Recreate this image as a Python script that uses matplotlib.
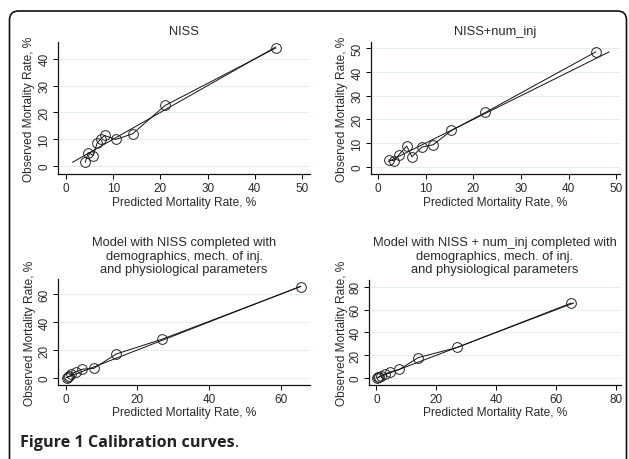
import matplotlib
matplotlib.use("Agg")
import matplotlib.pyplot as plt
from matplotlib.patches import FancyBboxPatch
from matplotlib import font_manager

W, H = 629, 460
DPI = 100

# ---- data ----
niss_pred = [4.1, 4.7, 5.8, 6.6, 7.4, 8.2, 10.5, 14.1, 21.0, 44.4]
niss_obs = [1.4, 5.0, 3.9, 8.6, 10.2, 11.4, 9.9, 12.0, 22.6, 44.0]

nissnum_pred = [2.2, 3.4, 4.4, 6.0, 7.1, 9.2, 11.6, 15.4, 22.5, 45.7]
nissnum_obs = [2.8, 2.5, 5.1, 8.7, 4.2, 8.3, 9.3, 15.3, 22.9, 48.5]

full_pred = [0.4, 0.7, 1.1, 1.6, 2.8, 4.7, 7.9, 14.1, 27.0, 65.5]
full_obs = [0.3, 1.0, 1.2, 2.5, 4.4, 6.3, 6.9, 17.1, 27.8, 65.3]

fullnum_pred = [0.3, 0.6, 1.0, 1.4, 2.8, 4.5, 7.6, 14.0, 26.9, 65.0]
fullnum_obs = [0.2, 0.5, 1.3, 2.0, 3.5, 5.3, 7.5, 18.0, 26.8, 65.8]

titles = [
    "NISS",
    "NISS+num_inj",
    "Model with NISS completed with\ndemographics, mech. of inj.\nand physiological parameters",
    "Model with NISS + num_inj completed with\ndemographics, mech. of inj.\nand physiological parameters",
]
xticks_list = [[0, 10, 20, 30, 40, 50], [0, 10, 20, 30, 40, 50], [0, 20, 40, 60], [0, 20, 40, 60, 80]]
yticks_list = [[0, 10, 20, 30, 40], [0, 10, 20, 30, 40, 50], [0, 20, 40, 60], [0, 20, 40, 60, 80]]
xlabel = "Predicted Mortality Rate, %"
ylabel = "Observed Mortality Rate, %"
caption_bold = "Figure 1 Calibration curves"
caption_tail = "."

# ---- fonts ----
avail = {f.name for f in font_manager.fontManager.ttflist}
narrow = "Liberation Sans Narrow" if "Liberation Sans Narrow" in avail else "Liberation Sans"
FONT = [narrow, "DejaVu Sans"]
plt.rcParams["font.family"] = FONT

fig = plt.figure(figsize=(W / DPI, H / DPI), dpi=DPI)
fig.patch.set_facecolor("white")


def fx(px):
    return px / W


def fy(py):
    return 1 - py / H


panels = [
    dict(box=(58, 310, 43, 175), xlim=(-1.7, 51.7), ylim=(-3.0, 46.3),
         pred=niss_pred, obs=niss_obs, ylab_x=29, title_y=[32], xlab_y=203),
    dict(box=(371, 620, 43, 175), xlim=(-1.5, 50.8), ylim=(-3.1, 52.7),
         pred=nissnum_pred, obs=nissnum_obs, ylab_x=342, title_y=[32], xlab_y=203),
    dict(box=(58, 310, 280, 386), xlim=(-2.1, 68.1), ylim=(-5.0, 70.7),
         pred=full_pred, obs=full_obs, ylab_x=30, title_y=[243, 257, 270], xlab_y=413),
    dict(box=(369, 621, 281, 386), xlim=(-2.5, 81.6), ylim=(-6.1, 86.0),
         pred=fullnum_pred, obs=fullnum_obs, ylab_x=342, title_y=[243, 257, 270], xlab_y=413),
]

TXT = "#2a2a2a"
for i, p in enumerate(panels):
    l, r, t, b = p["box"]
    ax = fig.add_axes([fx(l), fy(b), (r - l) / W, (b - t) / H])
    ax.set_xlim(*p["xlim"])
    ax.set_ylim(*p["ylim"])
    for s in ["top", "right"]:
        ax.spines[s].set_visible(False)
    for s in ["left", "bottom"]:
        ax.spines[s].set_linewidth(0.9)
        ax.spines[s].set_color("#111111")
    ax.set_xticks(xticks_list[i])
    ax.set_yticks(yticks_list[i])
    ax.tick_params(axis="both", direction="out", length=3.5, width=0.7,
                   labelsize=8.5, labelcolor=TXT, pad=2)
    for lab in ax.get_yticklabels():
        lab.set_rotation(90)
        lab.set_va("center")
    ax.yaxis.grid(True, color="#e3eeee", linewidth=0.8)
    ax.set_axisbelow(True)

    pred, obs = p["pred"], p["obs"]
    lo = min(min(pred), min(obs))
    hi = max(max(pred), max(obs))
    ax.plot([lo, hi], [lo, hi], color="#111111", linewidth=0.7, zorder=2)
    ax.plot(pred, obs, color="#111111", linewidth=0.7, marker="o", markersize=7,
            markerfacecolor="none", markeredgecolor="#222222", markeredgewidth=0.7, zorder=3)

    cx = (l + r) / 2
    lines = titles[i].split("\n")
    for line, ty in zip(lines, p["title_y"]):
        fig.text(fx(cx), fy(ty), line, ha="center", va="center", fontsize=9.3, color=TXT)
    fig.text(fx(cx), fy(p["xlab_y"]), xlabel, ha="center", va="center", fontsize=8.6, color=TXT)
    fig.text(fx(p["ylab_x"]), fy((t + b) / 2), ylabel, ha="center", va="center",
             rotation=90, fontsize=8.6, color=TXT)

# rounded frame
frame = FancyBboxPatch((9.5, -20), 617, H - 12 + 20, boxstyle="round,pad=0,rounding_size=9",
                       transform=None, facecolor="none", edgecolor="#111111", linewidth=1.2)
fig.patches.append(frame)

# caption
cap_font = ["Open Sans", "DejaVu Sans"]
t1 = fig.text(fx(20), fy(443), caption_bold, ha="left", va="center", fontsize=11.6,
              fontweight="bold", family=cap_font, color="#222222")
fig.canvas.draw()
bb = t1.get_window_extent()
fig.text(bb.x1 / W + 0.001, fy(443), caption_tail, ha="left", va="center", fontsize=11.6,
         family=cap_font, color="#222222")

fig.savefig("out.png", dpi=DPI)
